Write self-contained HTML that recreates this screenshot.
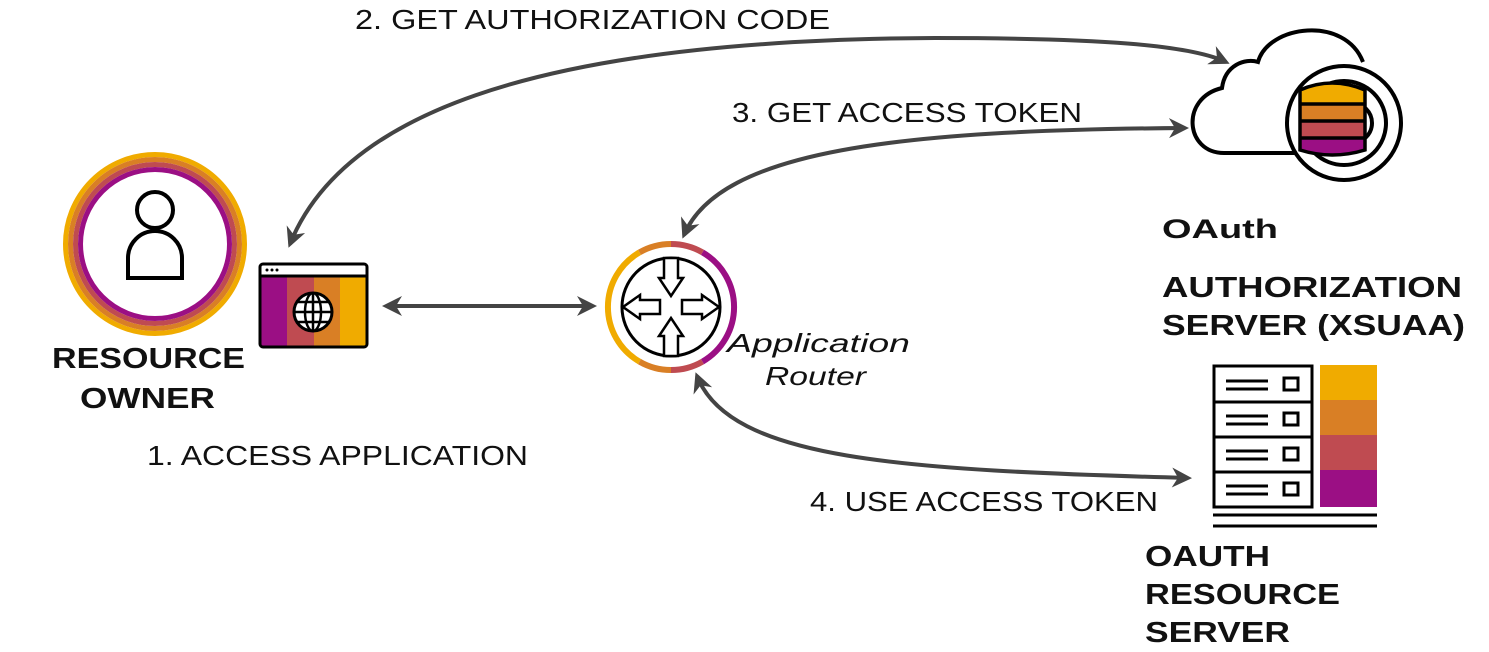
<!DOCTYPE html>
<html><head><meta charset="utf-8"><style>
html,body{margin:0;padding:0;background:#fff;width:1489px;height:652px;overflow:hidden}
text{font-family:"Liberation Sans",sans-serif;fill:#111}
</style></head><body>
<svg width="1489" height="652" viewBox="0 0 1489 652" xmlns="http://www.w3.org/2000/svg">
<defs>
<marker id="ah" viewBox="0 0 10 10" refX="8" refY="5" markerWidth="5" markerHeight="5" orient="auto-start-reverse"><path d="M0,0 L10,5 L0,10 L3,5z" fill="#444"/></marker>
</defs>
<g fill="none" stroke="#444" stroke-width="4">
<path d="M290,244 C340,120 520,40 935,38 C1100,38 1190,45 1226,62" marker-start="url(#ah)" marker-end="url(#ah)"/>
<path d="M684,235 C720,150 900,130 1185,128" marker-start="url(#ah)" marker-end="url(#ah)"/>
<path d="M697,376 C730,460 900,470 1188,478" marker-start="url(#ah)" marker-end="url(#ah)"/>
<path d="M386,306 L593,306" marker-start="url(#ah)" marker-end="url(#ah)"/>
</g>
<circle cx="155" cy="244" r="89.5" fill="none" stroke="#f0ab00" stroke-width="5"/>
<circle cx="155" cy="244" r="84.5" fill="none" stroke="#d97f25" stroke-width="5"/>
<circle cx="155" cy="244" r="79.5" fill="none" stroke="#bf4b51" stroke-width="5"/>
<circle cx="155" cy="244" r="74.5" fill="none" stroke="#9b0f84" stroke-width="5"/>
<circle cx="155" cy="210" r="18" fill="none" stroke="#000" stroke-width="4"/>
<path d="M128,278 L128,258 A27,27 0 0 1 182,258 L182,278 Z" fill="none" stroke="#000" stroke-width="4"/>
<rect x="260" y="276" width="27" height="70" fill="#9b0f84"/>
<rect x="287" y="276" width="27" height="70" fill="#bf4b51"/>
<rect x="314" y="276" width="26" height="70" fill="#d97f25"/>
<rect x="340" y="276" width="27" height="70" fill="#f0ab00"/>
<rect x="260" y="264" width="107" height="83" rx="3" fill="none" stroke="#000" stroke-width="3"/>
<line x1="260" y1="276" x2="367" y2="276" stroke="#000" stroke-width="3"/>
<circle cx="267" cy="270" r="1.5"/><circle cx="272" cy="270" r="1.5"/><circle cx="277" cy="270" r="1.5"/>
<g fill="#fff" stroke="#000" stroke-width="3"><circle cx="313" cy="312" r="19"/></g>
<g fill="none" stroke="#000" stroke-width="2.5"><ellipse cx="313" cy="312" rx="8" ry="19"/><line x1="294" y1="312" x2="332" y2="312"/><line x1="297" y1="302" x2="329" y2="302"/><line x1="297" y1="322" x2="329" y2="322"/><line x1="313" y1="293" x2="313" y2="331"/></g>
<text x="52" y="368" font-size="29" font-weight="bold" textLength="193" lengthAdjust="spacingAndGlyphs">RESOURCE</text>
<text x="80" y="408" font-size="29" font-weight="bold" textLength="135" lengthAdjust="spacingAndGlyphs">OWNER</text>
<text x="147" y="465" font-size="28" textLength="381" lengthAdjust="spacingAndGlyphs">1. ACCESS APPLICATION</text>
<text x="355" y="29" font-size="28" textLength="475" lengthAdjust="spacingAndGlyphs">2. GET AUTHORIZATION CODE</text>
<text x="732" y="122" font-size="28" textLength="350" lengthAdjust="spacingAndGlyphs">3. GET ACCESS TOKEN</text>
<text x="810" y="511" font-size="28" textLength="348" lengthAdjust="spacingAndGlyphs">4. USE ACCESS TOKEN</text>
<g fill="none" stroke-width="6">
<path d="M639.5,252.4 A63,63 0 0 0 639.5,361.6" stroke="#f0ab00"/>
<path d="M671,244 A63,63 0 0 0 639.5,252.4" stroke="#d97f25"/>
<path d="M639.5,361.6 A63,63 0 0 0 671,370" stroke="#d97f25"/>
<path d="M702.5,252.4 A63,63 0 0 0 671,244" stroke="#bf4b51"/>
<path d="M671,370 A63,63 0 0 0 702.5,361.6" stroke="#bf4b51"/>
<path d="M702.5,361.6 A63,63 0 0 0 702.5,252.4" stroke="#9b0f84"/>
</g>
<circle cx="671" cy="307" r="49" fill="none" stroke="#000" stroke-width="3"/>
<g fill="#fff" stroke="#000" stroke-width="2.5">
<path d="M664,258 L678,258 L678,278 L683,278 L671,296 L659,278 L664,278Z"/>
<path d="M664,356 L678,356 L678,336 L683,336 L671,318 L659,336 L664,336Z"/>
<path d="M660,300 L640,300 L640,295 L623,307 L640,319 L640,314 L660,314Z"/>
<path d="M682,300 L702,300 L702,295 L719,307 L702,319 L702,314 L682,314Z"/>
</g>
<text x="727" y="352" font-size="26" font-style="italic" font-family="Liberation Serif" textLength="183" lengthAdjust="spacingAndGlyphs">Application</text>
<text x="765" y="385" font-size="26" font-style="italic" font-family="Liberation Serif" textLength="101" lengthAdjust="spacingAndGlyphs">Router</text>
<path d="M1298,153 L1224,153 C1185,153 1180,98 1222,88 C1225,65 1245,58 1258,62 C1268,25 1345,15 1363,62" fill="none" stroke="#000" stroke-width="4"/>
<circle cx="1344" cy="123" r="57" fill="#fff" stroke="#000" stroke-width="4"/>
<circle cx="1344" cy="123" r="42" fill="none" stroke="#000" stroke-width="4"/>
<circle cx="1352" cy="123" r="20" fill="none" stroke="#000" stroke-width="4"/>
<path d="M1300,90 Q1332,76 1365,90 L1365,104 L1300,104Z" fill="#f0ab00"/>
<rect x="1300" y="104" width="65" height="17" fill="#d97f25"/>
<rect x="1300" y="121" width="65" height="17" fill="#bf4b51"/>
<path d="M1300,138 L1365,138 L1365,150 Q1332,160 1300,150Z" fill="#9b0f84"/>
<path d="M1300,90 Q1332,76 1365,90 L1365,150 Q1332,160 1300,150Z M1300,104 L1365,104 M1300,121 L1365,121 M1300,138 L1365,138" fill="none" stroke="#000" stroke-width="3.5"/>
<text x="1162" y="238" font-size="27" font-weight="bold" textLength="116" lengthAdjust="spacingAndGlyphs">OAuth</text>
<text x="1162" y="297" font-size="29" font-weight="bold" textLength="300" lengthAdjust="spacingAndGlyphs">AUTHORIZATION</text>
<text x="1162" y="335" font-size="29" font-weight="bold" textLength="303" lengthAdjust="spacingAndGlyphs">SERVER (XSUAA)</text>
<rect x="1320" y="365" width="57" height="35" fill="#f0ab00"/>
<rect x="1320" y="400" width="57" height="35" fill="#d97f25"/>
<rect x="1320" y="435" width="57" height="35" fill="#bf4b51"/>
<rect x="1320" y="470" width="57" height="37" fill="#9b0f84"/>
<g fill="none" stroke="#000" stroke-width="3">
<rect x="1214" y="366" width="98" height="141"/>
<line x1="1214" y1="402" x2="1312" y2="402"/><line x1="1214" y1="437" x2="1312" y2="437"/><line x1="1214" y1="472" x2="1312" y2="472"/>
<line x1="1226" y1="381" x2="1268" y2="381"/><line x1="1226" y1="389" x2="1268" y2="389"/><rect x="1284" y="378" width="14" height="12"/>
<line x1="1226" y1="416" x2="1268" y2="416"/><line x1="1226" y1="424" x2="1268" y2="424"/><rect x="1284" y="413" width="14" height="12"/>
<line x1="1226" y1="451" x2="1268" y2="451"/><line x1="1226" y1="459" x2="1268" y2="459"/><rect x="1284" y="448" width="14" height="12"/>
<line x1="1226" y1="486" x2="1268" y2="486"/><line x1="1226" y1="494" x2="1268" y2="494"/><rect x="1284" y="483" width="14" height="12"/>
<line x1="1213" y1="515" x2="1377" y2="515"/><line x1="1213" y1="526" x2="1377" y2="526"/>
</g>
<text x="1145" y="566" font-size="29" font-weight="bold" textLength="125" lengthAdjust="spacingAndGlyphs">OAUTH</text>
<text x="1145" y="604" font-size="29" font-weight="bold" textLength="195" lengthAdjust="spacingAndGlyphs">RESOURCE</text>
<text x="1145" y="642" font-size="29" font-weight="bold" textLength="145" lengthAdjust="spacingAndGlyphs">SERVER</text>
</svg>
</body></html>
